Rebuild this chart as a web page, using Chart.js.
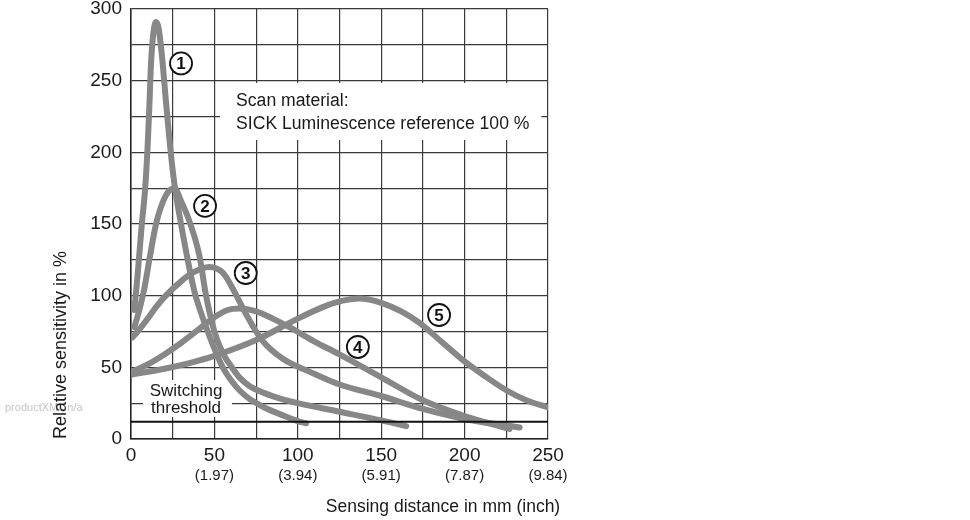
<!DOCTYPE html>
<html>
<head>
<meta charset="utf-8">
<script src="https://cdn.jsdelivr.net/npm/chart.js@4.4.0/dist/chart.umd.min.js"></script>
<style>
html, body { margin: 0; padding: 0; background: #fff; }
</style>
</head>
<body>
<canvas id="myChart" width="970" height="520"></canvas>
<script>
// DATA (x = sensing distance mm, y = relative sensitivity %)
var curve1 = [[2,90],[4,115],[6.5,150],[8.5,175],[10,205],[11,232],[12,262],[13.5,284],[15,291],[16.5,287],[18.5,268],[21,235],[24,198],[26.5,174],[30,150],[34,125],[38,103],[42,88],[46,75],[50,63],[55,50],[60,41],[65,34],[71,28],[80,22],[90,17],[100,12.5],[105,11]];
var curve2 = [[2,78],[5,90],[8,105],[11,125],[15,150],[18,162],[22,172],[26,175],[30,166],[35,152],[41,128],[45,100],[50,75],[55,60],[60.5,50],[65,43],[71,37],[80,32],[90,28],[100,25],[125,19],[150,13],[165,9]];
var curve3 = [[1,71],[4,75],[10,84],[15,92],[20,99],[30,110],[37,116],[47,120],[55,116],[61,105],[65,96],[69.5,86],[78.5,69],[91,56],[107,47],[125,38],[150,30],[175,21],[200,14],[233,8]];
var curve4 = [[1,47],[10,52],[20,59],[30,67],[40,76],[50,85],[58,90],[65,91],[75,89],[85,84],[95,78],[110,68],[125,59],[150,43],[175,27],[200,16],[227,7]];
var curve5 = [[1,45],[20,49],[35,53],[50,58],[75,69],[100,84],[115,92],[125,96],[137,98],[150,95],[162,89],[173,81],[186,68],[199,55],[212,44],[225,34],[237,27],[250,22]];
var threshold = 12;

var mmTicks = [0, 50, 100, 150, 200, 250];
var inchLabels = ['', '(1.97)', '(3.94)', '(5.91)', '(7.87)', '(9.84)'];
var yTicks = [0, 50, 100, 150, 200, 250, 300];

var curveNames = ['1', '2', '3', '4', '5'];
var curveTags = [[30,262],[44.4,162.6],[68.8,115.8],[136,64.2],[184.7,86.5]];

var FONT = '"Liberation Sans", Arial, sans-serif';

function toPoints(arr){
    return arr.map(function(p){ return {x: p[0], y: p[1]}; });
}

function curveSet(arr){
    return {
        data: toPoints(arr),
        borderColor: '#878787',
        borderWidth: 6,
        pointRadius: 0,
        borderCapStyle: 'round',
        borderJoinStyle: 'round',
        cubicInterpolationMode: 'monotone',
        fill: false
    };
}

// white boxes + texts behind the curves
var notesPlugin = {
    id: 'notes',
    beforeDatasetsDraw: function(chart){
        var ctx = chart.ctx, xs = chart.scales.x, ys = chart.scales.y;
        ctx.save();
        ctx.fillStyle = '#ffffff';
        // scan material box
        var x1 = xs.getPixelForValue(53.4), x2 = xs.getPixelForValue(246);
        var y1 = ys.getPixelForValue(248.4), y2 = ys.getPixelForValue(208.6);
        ctx.fillRect(x1, y1, x2 - x1, y2 - y1);
        // switching threshold box
        x1 = xs.getPixelForValue(7.2); x2 = xs.getPixelForValue(60.5);
        y1 = ys.getPixelForValue(41.2); y2 = ys.getPixelForValue(15.4);
        ctx.fillRect(x1, y1, x2 - x1, y2 - y1);

        ctx.fillStyle = '#1a1a1a';
        ctx.font = '17.6px ' + FONT;
        ctx.textBaseline = 'middle';
        ctx.textAlign = 'left';
        var tx = xs.getPixelForValue(63);
        ctx.fillText('Scan material:', tx, ys.getPixelForValue(235.5));
        ctx.fillText('SICK Luminescence reference 100 %', tx, ys.getPixelForValue(219.5));
        ctx.textAlign = 'center';
        ctx.font = '17px ' + FONT;
        var sx = xs.getPixelForValue(33);
        ctx.fillText('Switching', sx, ys.getPixelForValue(33.5));
        ctx.fillText('threshold', sx, ys.getPixelForValue(21.5));
        ctx.restore();
    },
    afterDraw: function(chart){
        var ctx = chart.ctx, xs = chart.scales.x, ys = chart.scales.y;
        ctx.save();
        // circled curve numbers
        curveTags.forEach(function(t, i){
            var px = xs.getPixelForValue(t[0]), py = ys.getPixelForValue(t[1]);
            ctx.beginPath();
            ctx.arc(px, py, 11, 0, 2 * Math.PI);
            ctx.fillStyle = '#ffffff';
            ctx.fill();
            ctx.lineWidth = 1.8;
            ctx.strokeStyle = '#111';
            ctx.stroke();
            ctx.fillStyle = '#111';
            ctx.font = 'bold 17px ' + FONT;
            ctx.textAlign = 'center';
            ctx.textBaseline = 'middle';
            ctx.fillText(curveNames[i], px, py + 1);
        });
        // inch labels
        ctx.fillStyle = '#1a1a1a';
        ctx.font = '15px ' + FONT;
        ctx.textAlign = 'center';
        ctx.textBaseline = 'middle';
        mmTicks.forEach(function(v, i){
            if (inchLabels[i]) ctx.fillText(inchLabels[i], xs.getPixelForValue(v), 476);
        });
        // x title
        ctx.font = '17.5px ' + FONT;
        ctx.fillText('Sensing distance in mm (inch)', 443, 507);
        ctx.restore();
    },
    beforeDraw: function(chart){
        // faint watermark sits behind the axis title
        var ctx = chart.ctx;
        ctx.save();
        ctx.fillStyle = '#c4c4c4';
        ctx.font = '11px ' + FONT;
        ctx.textAlign = 'left';
        ctx.textBaseline = 'middle';
        ctx.fillText('productXML n/a', 5, 408);
        ctx.restore();
    }
};

var ctx = document.getElementById('myChart').getContext('2d');
var chart = new Chart(ctx, {
    type: 'line',
    data: {
        datasets: [
            {
                data: [{x: 0, y: threshold}, {x: 250, y: threshold}],
                borderColor: '#111',
                borderWidth: 2,
                pointRadius: 0
            },
            curveSet(curve1),
            curveSet(curve2),
            curveSet(curve3),
            curveSet(curve4),
            curveSet(curve5)
        ]
    },
    options: {
        responsive: false,
        animation: false,
        devicePixelRatio: 1,
        layout: { padding: { left: 0, top: 9, right: 422, bottom: 0 } },
        plugins: { legend: { display: false }, tooltip: { enabled: false } },
        scales: {
            x: {
                type: 'linear',
                min: 0, max: 250,
                grid: { color: '#3a3a3a', lineWidth: 1.2, drawTicks: false },
                border: { color: '#222', width: 1.5 },
                ticks: {
                    stepSize: 25,
                    autoSkip: false,
                    maxRotation: 0,
                    padding: 5,
                    color: '#1a1a1a',
                    font: { family: FONT, size: 19 },
                    callback: function(v){ return mmTicks.indexOf(v) >= 0 ? String(v) : ''; }
                },
                afterFit: function(s){ s.height = 81; s.paddingLeft = 0; s.paddingRight = 0; }
            },
            y: {
                min: 0, max: 300,
                grid: { color: '#3a3a3a', lineWidth: 1.2, drawTicks: false },
                border: { color: '#222', width: 1.5 },
                ticks: {
                    stepSize: 25,
                    autoSkip: false,
                    padding: 9,
                    color: '#1a1a1a',
                    font: { family: FONT, size: 19 },
                    callback: function(v){ return yTicks.indexOf(v) >= 0 ? String(v) : ''; }
                },
                title: {
                    display: true,
                    text: 'Relative sensitivity in %',
                    align: 'start',
                    color: '#1a1a1a',
                    font: { family: FONT, size: 18 },
                    padding: { top: 50, bottom: 0 }
                },
                afterFit: function(s){ s.width = 131; s.paddingTop = 0; s.paddingBottom = 0; }
            }
        }
    },
    plugins: [notesPlugin]
});
</script>
</body>
</html>
